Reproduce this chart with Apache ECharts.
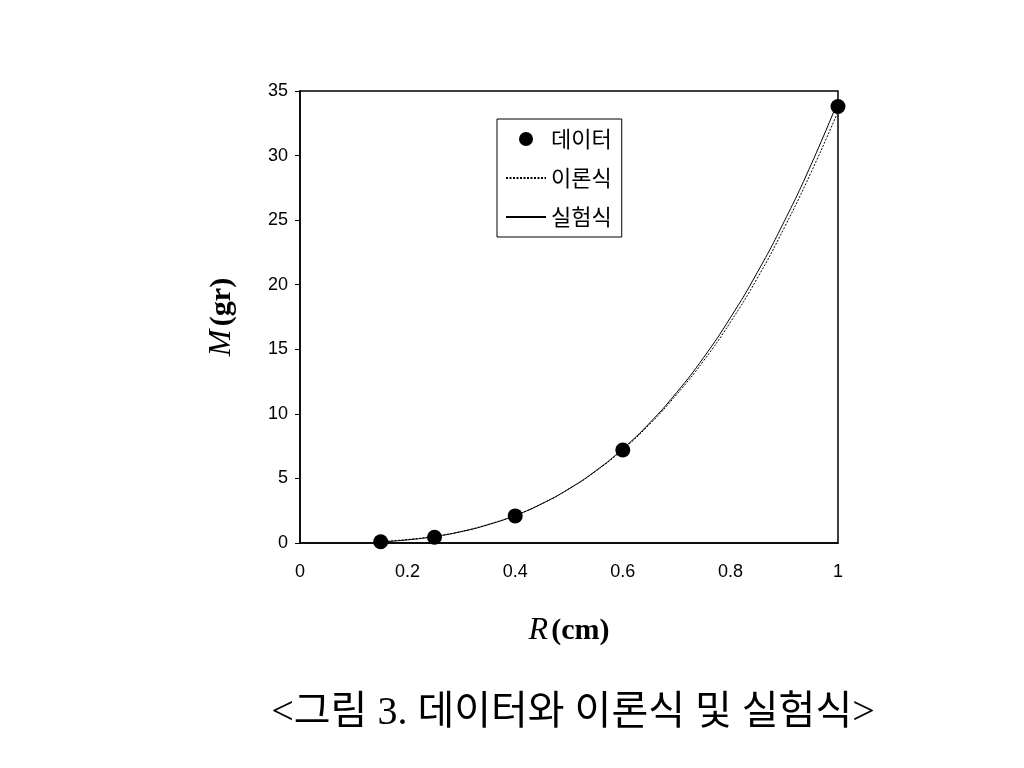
<!DOCTYPE html>
<html><head><meta charset="utf-8">
<script src="https://cdn.jsdelivr.net/npm/echarts@6/dist/echarts.min.js"></script>
<style>html,body{margin:0;background:#fff}#c{width:1024px;height:768px}</style>
</head><body><div id="c"></div>
<script>
const dataR = [0.15, 0.25, 0.4, 0.6, 1.0];
const dataM = [0.1, 0.45, 2.1, 7.2, 33.8];
const curveR = [0.15,0.2,0.25,0.3,0.35,0.4,0.45,0.5,0.55,0.6,0.65,0.7,0.75,0.8,0.85,0.9,0.95,1.0];
const theoryM = [0.11,0.27,0.52,0.90,1.44,2.14,3.05,4.19,5.57,7.24,9.2,11.5,14.1,17.1,20.5,24.4,28.7,33.4];
const exprM = [0.08,0.24,0.5,0.88,1.42,2.13,3.05,4.2,5.6,7.3,9.3,11.65,14.35,17.45,20.95,24.9,29.3,34.2];
const zip = (a,b)=>a.map((v,i)=>[v,b[i]]);
const chart = echarts.init(document.getElementById('c'));
const ff = 'Liberation Sans';
const nameRich = {i:{fontFamily:'Liberation Serif',fontStyle:'italic',fontSize:32,color:'#000'},
      b:{fontFamily:'Liberation Serif',fontWeight:'bold',fontSize:30,color:'#000'}};
chart.setOption({
  animation:false,
  grid:{left:300,right:186,top:91,bottom:225,show:true,borderColor:'#000',borderWidth:1.5},
  title:{text:'<그림 3. 데이터와 이론식 및 실험식>',left:568,textAlign:'center',top:688,
    textStyle:{fontFamily:'Liberation Serif, Noto Sans CJK KR',fontSize:40,fontWeight:'normal',color:'#000'}},
  legend:{left:497,top:119,orient:'vertical',itemGap:17,padding:[9,10,9,8],
    borderColor:'#000',borderWidth:1,itemWidth:40,itemHeight:14,
    textStyle:{fontFamily:'Noto Sans CJK KR',fontSize:22,color:'#000'},
    data:[{name:'데이터',icon:'circle',itemStyle:{color:'#000'}},
          {name:'이론식',itemStyle:{opacity:0}},
          {name:'실험식',itemStyle:{opacity:0}}]},
  xAxis:{type:'value',min:0,max:1,interval:0.2,
    name:'{i|R} {b|(cm)}',nameLocation:'middle',nameGap:72,
    nameTextStyle:{rich:nameRich},
    axisLine:{lineStyle:{color:'#000',width:1.5}},axisTick:{show:false},splitLine:{show:false},
    axisLabel:{fontFamily:ff,fontSize:18,color:'#000',margin:20,formatter:v=>String(+v.toFixed(1))}},
  yAxis:{type:'value',min:0,max:35,interval:5,
    name:'{i|M} {b|(gr)}',nameLocation:'middle',nameGap:62,nameRotate:90,
    nameTextStyle:{rich:nameRich},
    axisLine:{lineStyle:{color:'#000',width:1.5}},axisTick:{show:true,inside:false,length:5,lineStyle:{color:'#000'}},
    splitLine:{show:false},axisLabel:{fontFamily:ff,fontSize:18,color:'#000',margin:12}},
  series:[
    {name:'데이터',type:'scatter',data:zip(dataR,dataM),symbolSize:15,itemStyle:{color:'#000',opacity:1},z:5},
    {name:'이론식',type:'line',data:zip(curveR,theoryM),smooth:true,showSymbol:false,symbol:'none',
      itemStyle:{color:'#000'},lineStyle:{color:'#000',width:1,type:[2,1.5]}},
    {name:'실험식',type:'line',data:zip(curveR,exprM),smooth:true,showSymbol:false,symbol:'none',
      itemStyle:{color:'#000'},lineStyle:{color:'#000',width:1}}
  ]
});
</script></body></html>
